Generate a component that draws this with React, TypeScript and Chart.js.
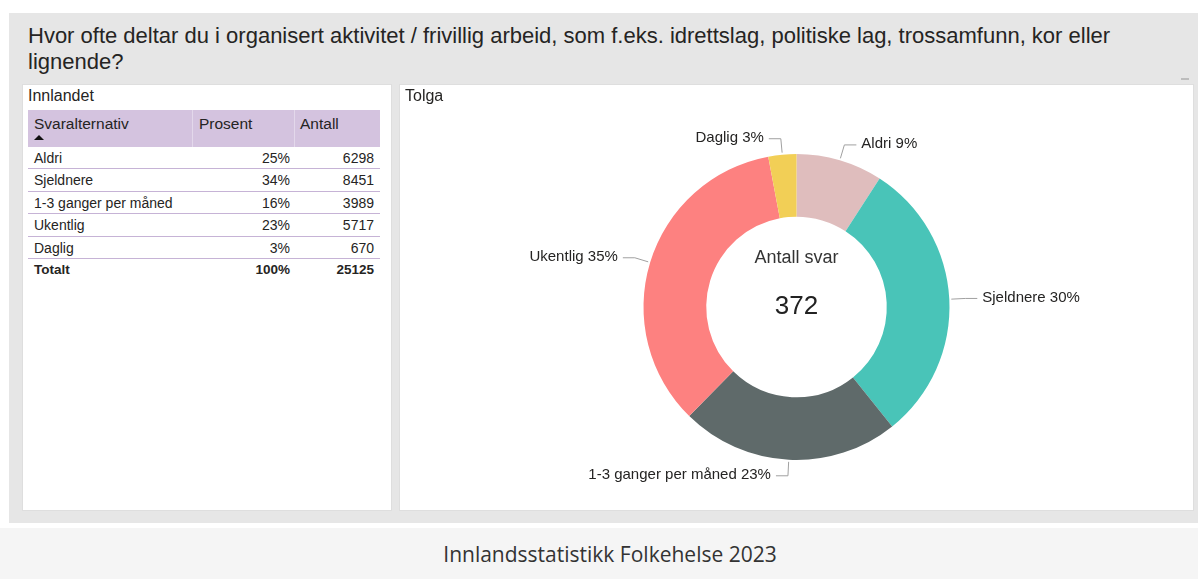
import React, { useEffect, useRef } from "react";
import { Chart, registerables } from "chart.js";

Chart.register(...registerables);

const TITLE =
  "Hvor ofte deltar du i organisert aktivitet / frivillig arbeid, som f.eks. idrettslag, politiske lag, trossamfunn, kor eller lignende?";
const FOOTER = "Innlandsstatistikk Folkehelse 2023";

// Table (Innlandet)
const tableHeaders = ["Svaralternativ", "Prosent", "Antall"];
const tableCategories = ["Aldri", "Sjeldnere", "1-3 ganger per måned", "Ukentlig", "Daglig"];
const tablePercent = ["25%", "34%", "16%", "23%", "3%"];
const tableCount = [6298, 8451, 3989, 5717, 670];
const tableTotal = ["Totalt", "100%", "25125"];

// Donut (Tolga)
const donutLabels = ["Aldri", "Sjeldnere", "1-3 ganger per måned", "Ukentlig", "Daglig"];
const donutValues = [34, 112, 86, 129, 11];
const donutPercentLabels = ["9%", "30%", "23%", "35%", "3%"];
const donutColors = ["#dfbdbd", "#49c4b8", "#5f6a6a", "#fd8180", "#f2cf56"];
const centerTitle = "Antall svar";
const centerValue = "372";

const labelPlugin = {
  id: "outsideLabels",
  afterDraw(chart: any) {
    const ctx = chart.ctx;
    const meta = chart.getDatasetMeta(0);
    ctx.save();
    ctx.font = "15px 'Liberation Sans', Arial, sans-serif";
    ctx.textBaseline = "middle";
    meta.data.forEach((arc: any, i: number) => {
      const mid = (arc.startAngle + arc.endAngle) / 2;
      const r = arc.outerRadius;
      const cx = arc.x;
      const cy = arc.y;
      const x0 = cx + Math.cos(mid) * (r + 2);
      const y0 = cy + Math.sin(mid) * (r + 2);
      const x1 = cx + Math.cos(mid) * (r + 16);
      const y1 = cy + Math.sin(mid) * (r + 16);
      const right = Math.cos(mid) >= 0;
      const x2 = x1 + (right ? 12 : -12);
      ctx.strokeStyle = "#a0a0a0";
      ctx.lineWidth = 1;
      ctx.beginPath();
      ctx.moveTo(x0, y0);
      ctx.lineTo(x1, y1);
      ctx.lineTo(x2, y1);
      ctx.stroke();
      ctx.fillStyle = "#252423";
      ctx.textAlign = right ? "left" : "right";
      ctx.fillText(
        donutLabels[i] + " " + donutPercentLabels[i],
        x2 + (right ? 5 : -5),
        y1 - 1
      );
    });
    const a = meta.data[0];
    if (a) {
      ctx.textAlign = "center";
      ctx.fillStyle = "#333333";
      ctx.font = "18px 'Liberation Sans', Arial, sans-serif";
      ctx.fillText(centerTitle, a.x, a.y - 49);
      ctx.fillStyle = "#222222";
      ctx.font = "26px 'Liberation Sans', Arial, sans-serif";
      ctx.fillText(centerValue, a.x, a.y);
    }
    ctx.restore();
  },
};

function Donut() {
  const ref = useRef<HTMLCanvasElement | null>(null);
  useEffect(() => {
    if (!ref.current) return;
    const chart = new Chart(ref.current, {
      type: "doughnut",
      data: {
        labels: donutLabels,
        datasets: [
          {
            data: donutValues,
            backgroundColor: donutColors,
            borderWidth: 0,
            hoverOffset: 0,
          },
        ],
      },
      options: {
        animation: false,
        responsive: false,
        maintainAspectRatio: false,
        radius: 153,
        cutout: "59%",
        layout: { padding: { top: 69, bottom: 50, left: 0, right: 0 } },
        plugins: {
          legend: { display: false },
          tooltip: { enabled: false },
        },
      } as any,
      plugins: [labelPlugin],
    });
    return () => chart.destroy();
  }, []);
  return (
    <canvas
      ref={ref}
      width={793}
      height={425}
      style={{ position: "absolute", left: 0, top: 0, width: 793, height: 425 }}
    />
  );
}

export default function App() {
  const font = "'Liberation Sans', Arial, sans-serif";
  const rowH = 22.4;
  const sep = "1px solid #c6b3d6";
  return (
    <div
      style={{
        position: "fixed",
        left: 0,
        top: 0,
        width: 1198,
        height: 579,
        background: "#ffffff",
        fontFamily: font,
        overflow: "hidden",
      }}
    >
      {/* gray report panel */}
      <div
        style={{
          position: "absolute",
          left: 9,
          top: 13,
          width: 1189,
          height: 510,
          background: "#e6e6e6",
        }}
      />
      <div
        style={{
          position: "absolute",
          left: 28,
          top: 23,
          width: 1110,
          fontSize: 22,
          lineHeight: "26px",
          color: "#252423",
        }}
      >
        {TITLE}
      </div>
      <div
        style={{
          position: "absolute",
          left: 1181,
          top: 78,
          width: 8,
          height: 2,
          background: "#bdbdbd",
        }}
      />
      {/* left panel */}
      <div
        style={{
          position: "absolute",
          left: 23,
          top: 85,
          width: 368,
          height: 425,
          background: "#ffffff",
          boxShadow: "0 0 0 1px #dedede",
        }}
      >
        <div
          style={{
            position: "absolute",
            left: 5,
            top: 2,
            fontSize: 16,
            color: "#252423",
          }}
        >
          Innlandet
        </div>
        <div
          style={{
            position: "absolute",
            left: 5,
            top: 25,
            width: 352,
            height: 37,
            background: "#d4c3df",
          }}
        >
          <div style={{ position: "absolute", left: 164, top: 0, width: 1, height: 37, background: "#e3d8eb" }} />
          <div style={{ position: "absolute", left: 266, top: 0, width: 1, height: 37, background: "#e3d8eb" }} />
          <div style={{ position: "absolute", left: 6, top: 5, fontSize: 15.5, color: "#252423" }}>
            {tableHeaders[0]}
          </div>
          <div
            style={{
              position: "absolute",
              left: 6,
              top: 25,
              width: 0,
              height: 0,
              borderLeft: "5px solid transparent",
              borderRight: "5px solid transparent",
              borderBottom: "5px solid #111",
            }}
          />
          <div style={{ position: "absolute", left: 171, top: 5, fontSize: 15.5, color: "#252423" }}>
            {tableHeaders[1]}
          </div>
          <div style={{ position: "absolute", left: 272, top: 5, fontSize: 15.5, color: "#252423" }}>
            {tableHeaders[2]}
          </div>
        </div>
        {tableCategories.map((c, i) => (
          <div
            key={c}
            style={{
              position: "absolute",
              left: 5,
              top: 62 + i * rowH,
              width: 352,
              height: rowH,
              borderBottom: sep,
              boxSizing: "border-box",
              fontSize: 14,
              color: "#252423",
              lineHeight: rowH + "px",
            }}
          >
            <span style={{ position: "absolute", left: 6 }}>{c}</span>
            <span style={{ position: "absolute", right: 90 }}>{tablePercent[i]}</span>
            <span style={{ position: "absolute", right: 6 }}>{tableCount[i]}</span>
          </div>
        ))}
        <div
          style={{
            position: "absolute",
            left: 5,
            top: 62 + 5 * rowH,
            width: 352,
            height: rowH,
            fontSize: 13.5,
            fontWeight: "bold",
            color: "#252423",
            lineHeight: rowH + "px",
          }}
        >
          <span style={{ position: "absolute", left: 6 }}>{tableTotal[0]}</span>
          <span style={{ position: "absolute", right: 90 }}>{tableTotal[1]}</span>
          <span style={{ position: "absolute", right: 6 }}>{tableTotal[2]}</span>
        </div>
      </div>
      {/* right panel */}
      <div
        style={{
          position: "absolute",
          left: 400,
          top: 85,
          width: 793,
          height: 425,
          background: "#ffffff",
          boxShadow: "0 0 0 1px #dedede",
        }}
      >
        <Donut />
        <div
          style={{
            position: "absolute",
            left: 5,
            top: 2,
            fontSize: 16,
            color: "#252423",
          }}
        >
          Tolga
        </div>
      </div>
      {/* footer */}
      <div
        style={{
          position: "absolute",
          left: 0,
          top: 528,
          width: 1198,
          height: 51,
          background: "#f5f5f5",
          display: "flex",
          alignItems: "center",
          justifyContent: "center",
          paddingLeft: 22,
          boxSizing: "border-box",
          fontFamily: "'Open Sans', sans-serif",
          fontSize: 21,
          color: "#333333",
        }}
      >
        {FOOTER}
      </div>
    </div>
  );
}
